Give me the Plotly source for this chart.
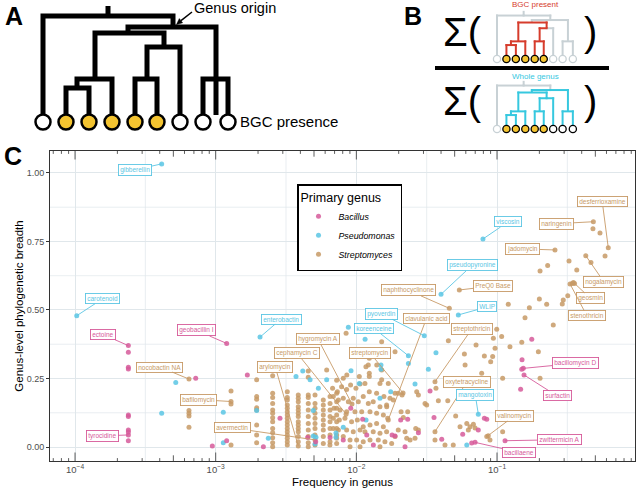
import plotly.graph_objects as go

FONT = "Liberation Sans, Arial, sans-serif"
W, H = 638, 492

BAC_COL = "#D65A9A"
PSE_COL = "#5BC6E4"
STR_COL = "#C79A66"
GRID = "#E0E7EB"

# ---------------- data (log10 frequency in genus, genus-level breadth) ----------------
bac_labels = ["ectoine", "tyrocidine", "geobacillin I", "bacillomycin D", "surfactin",
              "zwittermicin A", "bacillaene"]
bac_points = [(-3.621, 0.370), (-3.621, 0.044), (-2.922, 0.378), (-0.813, 0.287), (-0.808, 0.263),
              (-0.943, 0.023), (-1.156, 0.017),
              (-3.621, 0.346), (-3.621, 0.291), (-3.621, 0.285), (-3.621, 0.117), (-3.621, 0.111),
              (-3.621, 0.062), (-3.621, 0.055), (-3.621, 0.023), (-3.142, 0.251), (-2.775, 0.263),
              (-3.024, 0.004), (-2.922, 0.023), (-2.661, 0.001), (-2.543, 0.105), (-2.346, 0.035),
              (-2.289, 0.019), (-2.187, 0.035), (-2.040, 0.141), (-1.955, 0.101), (-2.093, 0.026),
              (-1.926, 0.044), (-1.879, 0.007), (-1.746, 0.044), (-1.725, 0.040), (-1.685, 0.099),
              (-1.635, 0.101), (-1.654, 0.001), (-1.559, 0.052), (-1.448, 0.108), (-1.476, 0.204),
              (-1.393, 0.028), (-1.244, 0.047), (-1.133, 0.062), (-1.090, 0.105), (-1.073, 0.101),
              (-1.180, 0.015), (-0.832, 0.211), (-0.822, 0.318), (-0.824, 0.284), (-0.753, 0.393)]

pse_labels = ["gibberellin", "carotenoid", "enterobactin", "viscosin", "pseudopyronine", "WLIP",
              "pyoverdin", "koreenceine", "mangotoxin"]
pse_points = [(-3.384, 1.033), (-3.988, 0.479), (-2.685, 0.401), (-1.100, 0.759), (-1.398, 0.557),
              (-1.275, 0.482), (-1.517, 0.406), (-1.630, 0.333), (-1.133, 0.120),
              (-3.384, 0.123), (-3.284, 0.235), (-2.946, 0.127), (-2.946, 0.016), (-2.709, 0.133),
              (-2.626, 0.032), (-2.381, 0.277), (-2.429, 0.257), (-2.329, 0.245), (-2.270, 0.214),
              (-2.306, 0.133), (-2.306, 0.040), (-2.287, 0.036), (-2.294, 0.011), (-2.057, 0.437),
              (-1.938, 0.393), (-2.211, 0.245), (-2.038, 0.278), (-2.093, 0.072), (-1.931, 0.099),
              (-1.832, 0.178), (-1.825, 0.299), (-1.825, 0.284), (-1.630, 0.305), (-1.434, 0.344),
              (-1.488, 0.284), (-1.583, 0.230), (-1.756, 0.202), (-1.979, 0.232), (-2.145, 0.051),
              (-2.145, 0.036), (-1.215, 0.007)]

str_labels = ["desferrioxamine", "naringenin", "jadomycin", "nogalamycin", "geosmin", "stenothricin",
              "PreQ0 Base", "naphthocyclinone", "clavulanic acid", "streptothricin", "oxytetracycline",
              "valinomycin", "streptomycin", "hygromycin A", "cephamycin C", "arylomycin", "avermectin",
              "bafilomycin", "nocobactin NA"]
str_points = [(-0.209, 0.727), (-0.315, 0.822), (-0.588, 0.719), (-0.369, 0.698), (-0.449, 0.597),
              (-0.481, 0.595), (-1.268, 0.573), (-1.339, 0.506), (-1.773, 0.099), (-1.441, 0.238),
              (-1.441, 0.056), (-1.073, 0.038), (-1.668, 0.197), (-2.031, 0.157), (-2.073, 0.120),
              (-2.413, 0.004), (-2.294, 0.026), (-2.891, 0.166), (-3.190, 0.248),
              # high-frequency region
              (-0.318, 0.796), (-0.268, 0.781), (-0.232, 0.697), (-0.332, 0.673), (-0.488, 0.679),
              (-0.640, 0.662), (-0.694, 0.642), (-0.433, 0.646), (-0.465, 0.597), (-0.457, 0.600),
              (-0.497, 0.552), (-0.529, 0.536), (-0.536, 0.522), (-0.920, 0.521), (-0.770, 0.508),
              (-0.699, 0.540), (-0.647, 0.521), (-0.801, 0.472), (-0.600, 0.445), (-1.002, 0.430),
              (-1.346, 0.388), (-1.149, 0.372), (-1.026, 0.397), (-0.967, 0.403), (-0.908, 0.366),
              (-0.824, 0.382), (-0.706, 0.348), (-0.694, 0.251), (-1.014, 0.360), (-1.031, 0.330),
              (-1.045, 0.311), (-1.227, 0.299), (-1.232, 0.339), (-1.090, 0.332), (-1.109, 0.269),
              (-0.960, 0.251), (-1.434, 0.214), (-1.571, 0.202), (-1.559, 0.190), (-1.512, 0.159),
              (-1.500, 0.153), (-1.350, 0.169), (-1.417, 0.169), (-1.294, 0.113), (-1.263, 0.074),
              (-1.215, 0.086), (-1.192, 0.074), (-1.168, 0.083), (-1.204, 0.062), (-1.156, 0.069),
              (-1.062, 0.041), (-1.050, 0.026), (-0.960, 0.056), (-1.311, 0.007), (-1.370, 0.007),
              (-1.441, 0.026), (-1.618, 0.026), (-1.642, 0.032), (-1.583, 0.032), (-1.578, 0.068),
              (-1.559, 0.062), (-1.702, 0.062), (-1.654, 0.056), (-1.725, 0.038), (-1.749, 0.013),
              (-1.682, 0.129), (-1.635, 0.129), (-1.666, 0.108), (-1.777, 0.105), (-1.773, 0.232),
              (-1.725, 0.196), (-1.761, 0.178), (-1.737, 0.172), (-1.784, 0.147), (-1.702, 0.196),
              (-1.675, 0.190), (-1.820, 0.384), (-1.725, 0.348), (-1.908, 0.324), (-1.855, 0.299),
              (-2.073, 0.415), (-2.068, 0.263), (-1.915, 0.299), (-1.820, 0.245),
              # dense middle cloud
              (-2.211, 0.281), (-2.169, 0.214), (-2.135, 0.202), (-2.105, 0.220), (-2.069, 0.210),
              (-2.041, 0.226), (-2.003, 0.214), (-1.974, 0.230), (-1.939, 0.232), (-1.908, 0.257),
              (-1.832, 0.232), (-1.908, 0.202), (-1.856, 0.196), (-1.804, 0.184), (-2.164, 0.184),
              (-2.128, 0.172), (-2.093, 0.178), (-2.057, 0.165), (-2.022, 0.178), (-1.986, 0.165),
              (-1.951, 0.184), (-1.915, 0.159), (-1.880, 0.165), (-1.832, 0.147), (-1.785, 0.153),
              (-2.159, 0.141), (-2.116, 0.135), (-2.069, 0.129), (-2.010, 0.129), (-1.962, 0.129),
              (-1.903, 0.129), (-1.856, 0.123), (-1.808, 0.117), (-2.164, 0.105), (-2.121, 0.099),
              (-2.081, 0.105), (-2.034, 0.092), (-1.993, 0.099), (-1.951, 0.074), (-1.903, 0.080),
              (-1.856, 0.086), (-1.808, 0.074), (-2.164, 0.068), (-2.128, 0.062), (-2.069, 0.062),
              (-2.022, 0.056), (-1.974, 0.062), (-1.939, 0.056), (-1.880, 0.056), (-1.832, 0.050),
              (-1.785, 0.056), (-2.140, 0.032), (-2.093, 0.038), (-2.045, 0.026), (-1.998, 0.026),
              (-1.951, 0.019), (-1.903, 0.026), (-1.844, 0.026), (-1.797, 0.019), (-2.188, 0.007),
              (-2.045, 0.001), (-1.974, 0.001), (-1.832, 0.001), (-1.908, 0.269), (-1.820, 0.281),
              (-1.932, 0.293), (-1.979, 0.257), (-2.093, 0.251), (-2.140, 0.244),
              # low-frequency columns
              (-3.190, 0.133), (-3.190, 0.123), (-3.190, 0.113), (-3.190, 0.072),
              (-2.891, 0.204), (-2.891, 0.157), (-2.891, 0.007),
              (-2.709, 0.245), (-2.709, 0.184), (-2.709, 0.174), (-2.709, 0.143), (-2.709, 0.135),
              (-2.709, 0.080), (-2.709, 0.044), (-2.709, 0.016),
              (-2.595, 0.260), (-2.595, 0.196), (-2.595, 0.181), (-2.595, 0.159), (-2.595, 0.135),
              (-2.595, 0.123), (-2.595, 0.107), (-2.595, 0.092), (-2.595, 0.068), (-2.595, 0.052),
              (-2.595, 0.034), (-2.595, 0.016), (-2.595, 0.001),
              (-2.491, 0.202), (-2.491, 0.181), (-2.491, 0.172), (-2.491, 0.153), (-2.491, 0.141),
              (-2.491, 0.129), (-2.491, 0.117), (-2.491, 0.105), (-2.491, 0.092), (-2.491, 0.080),
              (-2.491, 0.068), (-2.491, 0.056), (-2.491, 0.044), (-2.491, 0.032), (-2.491, 0.019),
              (-2.491, 0.007),
              (-2.413, 0.190), (-2.413, 0.178), (-2.413, 0.165), (-2.413, 0.147), (-2.413, 0.135),
              (-2.413, 0.123), (-2.413, 0.111), (-2.413, 0.092), (-2.413, 0.080), (-2.413, 0.068),
              (-2.413, 0.056), (-2.413, 0.038), (-2.413, 0.019),
              (-2.342, 0.277), (-2.342, 0.255), (-2.342, 0.190), (-2.342, 0.181), (-2.342, 0.159),
              (-2.342, 0.135), (-2.342, 0.111), (-2.342, 0.086), (-2.342, 0.062), (-2.342, 0.038),
              (-2.342, 0.016), (-2.342, 0.001),
              (-2.294, 0.190), (-2.294, 0.159), (-2.294, 0.141), (-2.294, 0.123), (-2.294, 0.105),
              (-2.294, 0.086), (-2.294, 0.068), (-2.294, 0.044), (-2.294, 0.007),
              (-2.235, 0.172), (-2.235, 0.153), (-2.235, 0.135), (-2.235, 0.117), (-2.235, 0.099),
              (-2.235, 0.080), (-2.235, 0.062), (-2.235, 0.038), (-2.235, 0.013),
              (-2.187, 0.184), (-2.187, 0.159), (-2.187, 0.135), (-2.187, 0.111), (-2.187, 0.092),
              (-2.187, 0.068), (-2.187, 0.044), (-2.187, 0.019),
              (-2.140, 0.196), (-2.140, 0.165), (-2.140, 0.141), (-2.140, 0.117), (-2.140, 0.092),
              (-2.140, 0.068), (-2.140, 0.044), (-2.140, 0.013)]

x_tick_vals = [1e-4, 1e-3, 1e-2, 1e-1]
x_tick_text = ["10<sup>\u22124</sup>", "10<sup>\u22123</sup>", "10<sup>\u22122</sup>", "10<sup>\u22121</sup>"]
x_minor_grid = [10 ** -3.5, 10 ** -2.5, 10 ** -1.5, 10 ** -0.5]
y_tick_vals = [0, 0.25, 0.5, 0.75, 1.0]
y_tick_text = ["0.00", "0.25", "0.50", "0.75", "1.00"]
y_minor_grid = [0.125, 0.375, 0.625, 0.875]

# label box offsets (pixels, label centre relative to point)
label_offsets = {
    "desferrioxamine": (-6, -46), "naringenin": (-37, 2), "jadomycin": (-32, -1),
    "nogalamycin": (18, 26), "geosmin": (16, 15), "stenothricin": (17, 32), "PreQ0 Base": (34, -4),
    "naphthocyclinone": (-41, -18), "clavulanic acid": (38, -101), "streptothricin": (37, -53),
    "oxytetracycline": (32, -50), "valinomycin": (28, -21), "streptomycin": (-33, -40),
    "hygromycin A": (-34, -65), "cephamycin C": (-49, -61), "arylomycin": (-23, -79),
    "avermectin": (-83, -12), "bafilomycin": (-33, -2), "nocobactin NA": (-29, -12),
    "gibberellin": (-27, 6), "carotenoid": (26, -17), "enterobactin": (21, -18), "viscosin": (25, -17),
    "pseudopyronine": (31, -29), "WLIP": (29, -8), "pyoverdin": (-43, -22), "koreenceine": (-34, -27),
    "mangotoxin": (-3, -19),
    "ectoine": (-25, -11), "tyrocidine": (-26, 1), "geobacillin I": (-30, -13),
    "bacillomycin D": (52, -5), "surfactin": (33, 21), "zwittermicin A": (54, -1), "bacillaene": (44, 10),
}


def P(x):
    return x / W


def Q(y):
    return 1 - y / H


fig = go.Figure()
groups = [("Streptomyces", str_points, STR_COL, 3), ("Pseudomonas", pse_points, PSE_COL, 2),
          ("Bacillus", bac_points, BAC_COL, 1)]
for name, pts, col, rank in groups:
    fig.add_trace(go.Scatter(
        x=[10 ** p[0] for p in pts], y=[p[1] for p in pts], mode="markers",
        name="<i>%s</i>" % name, legendrank=rank,
        marker=dict(size=5, color=col, opacity=0.85, line=dict(width=0)),
        hoverinfo="skip"))

shapes = []
annots = []

# ---- minor grid lines ----
for v in x_minor_grid:
    shapes.append(dict(type="line", xref="x", yref="paper", x0=v, x1=v, y0=Q(461), y1=Q(151),
                       line=dict(color=GRID, width=0.7), layer="below"))
for v in y_minor_grid:
    shapes.append(dict(type="line", xref="paper", yref="y", x0=P(50), x1=P(635), y0=v, y1=v,
                       line=dict(color=GRID, width=0.7), layer="below"))

# ---- log ticks (annotation_logticks style), bottom and top ----
for n in range(-5, 0):
    for k in range(1, 10):
        v = k * 10.0 ** n
        if v < 10 ** -4.178 or v > 10 ** -0.019:
            continue
        L = 8.5 if k == 1 else (5.7 if k == 5 else 2.9)
        for base, sgn in ((461, -1), (151, 1)):
            shapes.append(dict(type="line", xref="x", yref="paper", x0=v, x1=v,
                               y0=Q(base), y1=Q(base + sgn * L),
                               line=dict(color="#333333", width=0.8), layer="above"))

# ---- point labels ----
for labels, pts, col in ((str_labels, str_points, STR_COL), (pse_labels, pse_points, PSE_COL),
                         (bac_labels, bac_points, BAC_COL)):
    for i, lab in enumerate(labels):
        dx, dy = label_offsets[lab]
        annots.append(dict(x=pts[i][0], y=pts[i][1], xref="x", yref="y", text=lab,
                           showarrow=True, ax=dx, ay=dy, arrowhead=0, arrowwidth=0.9,
                           arrowcolor=col, standoff=0,
                           font=dict(family=FONT, size=6.5, color=col),
                           bgcolor="white", bordercolor=col, borderwidth=0.9, borderpad=1.3))

# ---- Panel A: tree schematic ----
def path(pts, close=False):
    s = "M " + " L ".join("%.5f,%.5f" % (P(x), Q(y)) for x, y in pts)
    return s + (" Z" if close else "")


treeA = [[(43, 115), (43, 16), (173, 16), (173, 27)],
         [(108, 6), (108, 16)],
         [(128, 33), (128, 27), (216, 27), (216, 115)],
         [(95, 79), (95, 33), (164, 33), (164, 47)],
         [(77, 88), (77, 79), (112, 79), (112, 115)],
         [(66, 115), (66, 88), (89, 88), (89, 115)],
         [(147, 79), (147, 47), (180, 47), (180, 115)],
         [(135, 115), (135, 79), (157, 79), (157, 115)],
         [(203, 115), (203, 79), (228, 79), (228, 115)]]
for pl in treeA:
    shapes.append(dict(type="path", xref="paper", yref="paper", path=path(pl),
                       line=dict(color="black", width=5)))

leaf_x = [43, 66, 89, 112, 135, 157, 180, 203, 228]
GOLD = "#F4C430"


def circle(cx, cy, r, fill, edge, lw):
    return dict(type="circle", xref="paper", yref="paper", x0=P(cx - r), x1=P(cx + r),
                y0=Q(cy + r), y1=Q(cy - r), fillcolor=fill, line=dict(color=edge, width=lw))


for i, cx in enumerate(leaf_x):
    shapes.append(circle(cx, 122, 7.5, GOLD if 1 <= i <= 5 else "white", "black", 2.5))

# "Genus origin" arrow
shapes.append(dict(type="line", xref="paper", yref="paper", x0=P(192), y0=Q(12), x1=P(181), y1=Q(20.7),
                   line=dict(color="black", width=1.5)))
shapes.append(dict(type="path", xref="paper", yref="paper",
                   path=path([(176.5, 24.5), (182.6, 22.8), (179.3, 18.6)], close=True),
                   fillcolor="black", line=dict(color="black", width=0.5)))

# ---- Panel B: two scaled trees ----
segs = {
    "root_stem": [(108, 7), (108, 16)], "root_L": [(43, 16), (108, 16)], "root_R": [(108, 16), (173, 16)],
    "leaf1": [(43, 16), (43, 115)], "n2_stem": [(173, 16), (173, 27)], "n2_L": [(128, 27), (173, 27)],
    "n2_R": [(173, 27), (216, 27)], "n3_stem": [(128, 27), (128, 33)], "n3_bar": [(95, 33), (164, 33)],
    "n4_stem": [(95, 33), (95, 79)], "n4_bar": [(77, 79), (112, 79)], "n5_stem": [(77, 79), (77, 88)],
    "n5_bar": [(66, 88), (89, 88)], "leaf2": [(66, 88), (66, 115)], "leaf3": [(89, 88), (89, 115)],
    "leaf4": [(112, 79), (112, 115)], "n6_stem": [(164, 33), (164, 47)], "n6_L": [(147, 47), (164, 47)],
    "n6_R": [(164, 47), (180, 47)], "n7_stem": [(147, 47), (147, 79)], "n7_bar": [(135, 79), (157, 79)],
    "leaf5": [(135, 79), (135, 115)], "leaf6": [(157, 79), (157, 115)], "leaf7": [(180, 47), (180, 115)],
    "n8_stem": [(216, 27), (216, 79)], "n8_bar": [(203, 79), (228, 79)], "leaf8": [(203, 79), (203, 115)],
    "leaf9": [(228, 79), (228, 115)],
}
red_set = {"n3_bar", "n4_stem", "n4_bar", "n5_stem", "n5_bar", "leaf2", "leaf3", "leaf4", "n6_stem",
           "n6_L", "n7_stem", "n7_bar", "leaf5", "leaf6"}
cyan_set = set(segs) - {"root_stem", "root_L", "root_R", "leaf1", "n2_stem"}
GREY_T, RED_T, CYAN_T = "#C8D1D5", "#D63C2C", "#36C8DF"
S = 0.41


def tB(x, y, y0):
    return 497 + (x - 43) * S, y0 + (y - 122) * S


for y0, hot, hotcol in ((59, red_set, RED_T), (129, cyan_set, CYAN_T)):
    for key in sorted(segs, key=lambda k: k in hot):
        (xa, ya), (xb, yb) = segs[key]
        xa, ya = tB(xa, ya, y0)
        xb, yb = tB(xb, yb, y0)
        ext = 1.0
        if xa == xb:
            ya, yb = min(ya, yb) - ext, max(ya, yb)
        else:
            xa, xb = min(xa, xb) - ext, max(xa, xb) + ext
        shapes.append(dict(type="line", xref="paper", yref="paper", x0=P(xa), x1=P(xb),
                           y0=Q(ya), y1=Q(yb),
                           line=dict(color=hotcol if key in hot else GREY_T, width=2)))
    for i, cx in enumerate(leaf_x):
        bx, by = tB(cx, 122, y0)
        if 1 <= i <= 5:
            shapes.append(circle(bx, by, 3.6, GOLD, "black", 1.3))
        elif i == 0 or y0 == 59:
            shapes.append(circle(bx, by, 3.6, "white", GREY_T, 1.3))
        else:
            shapes.append(circle(bx, by, 3.6, "white", "black", 1.3))

shapes.append(dict(type="line", xref="paper", yref="paper", x0=P(435), x1=P(609), y0=Q(68), y1=Q(68),
                   line=dict(color="black", width=4)))


def txt(x, y, s, size, color="black", xanchor="center", bold=False):
    annots.append(dict(x=P(x), y=Q(y), xref="paper", yref="paper", text=("<b>%s</b>" % s) if bold else s,
                       showarrow=False, xanchor=xanchor, yanchor="middle",
                       font=dict(family=FONT, size=size, color=color)))


txt(14, 16, "A", 25, bold=True)
txt(413, 16, "B", 25, bold=True)
txt(13, 156, "C", 25, bold=True)
txt(192, 8, "Genus origin", 14.5, xanchor="left")
txt(238, 122, "BGC presence", 15, xanchor="left")
txt(462, 32, "\u03a3(", 40)
txt(590, 32, ")", 40)
txt(462, 101, "\u03a3(", 40)
txt(590, 101, ")", 40)
txt(535, 5, "BGC present", 8, color=RED_T)
txt(535, 76, "Whole genus", 8, color=CYAN_T)

fig.update_layout(
    width=W, height=H, autosize=False, margin=dict(l=0, r=0, t=0, b=0),
    paper_bgcolor="white", plot_bgcolor="white",
    font=dict(family=FONT, color="black"),
    showlegend=True,
    legend=dict(x=P(297), y=Q(184), xanchor="left", yanchor="top", bgcolor="white",
                bordercolor="black", borderwidth=1.5, font=dict(size=8.8, color="black"),
                title=dict(text="Primary genus", font=dict(size=12.5, color="black")),
                itemsizing="trace", itemwidth=30, tracegroupgap=0),
    xaxis=dict(type="log", range=[-4.178, -0.019], domain=[P(50), P(635)], anchor="y",
               tickmode="array", tickvals=x_tick_vals, ticktext=x_tick_text, ticks="",
               showgrid=True, gridcolor=GRID, gridwidth=1,
               showline=True, linecolor="#333333", linewidth=1, mirror=True, zeroline=False,
               tickfont=dict(size=9.5, color="#4D4D4D"), automargin=False,
               title=dict(text="Frequency in genus", font=dict(size=11.5, color="black"), standoff=3)),
    yaxis=dict(range=[-0.051, 1.080], domain=[Q(461), Q(151)], anchor="x",
               tickmode="array", tickvals=y_tick_vals, ticktext=y_tick_text,
               ticks="outside", ticklen=3, tickcolor="#333333", tickwidth=1,
               showgrid=True, gridcolor=GRID, gridwidth=1,
               showline=True, linecolor="#333333", linewidth=1, mirror=True, zeroline=False,
               tickfont=dict(size=9, color="#4D4D4D"), automargin=False,
               title=dict(text="Genus-level phylogenetic breadth", font=dict(size=11.5, color="black"),
                          standoff=0)),
    shapes=shapes, annotations=annots,
)

fig.write_html("out.html", config={"displayModeBar": False},
               post_script="document.body.style.margin='0px';document.body.style.overflow='hidden';")
